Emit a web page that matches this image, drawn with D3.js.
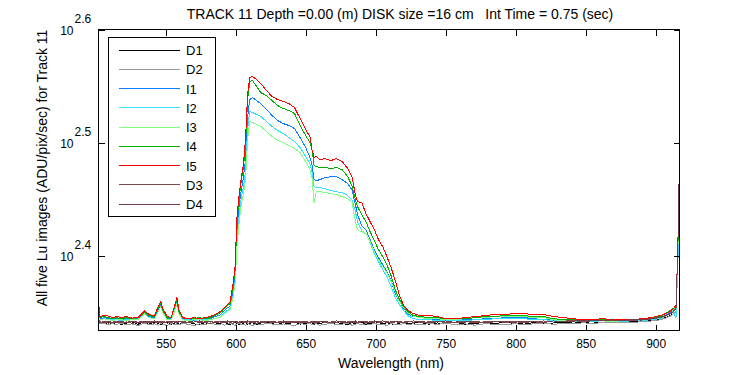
<!DOCTYPE html>
<html><head><meta charset="utf-8">
<script src="https://cdn.jsdelivr.net/npm/d3@7/dist/d3.min.js"></script>
<style>
body{margin:0;background:#fff}
svg{display:block}
text{font-family:"Liberation Sans",Arial,Helvetica,sans-serif;fill:#000}
</style>
</head><body>
<svg id="chart" width="750" height="375"></svg>
<script>
// ---------------- data ----------------
const titleText = "TRACK 11 Depth =0.00 (m) DISK size =16 cm   Int Time = 0.75 (sec)";
const xLabel = "Wavelength (nm)";
const yLabel = "All five Lu images (ADU/pix/sec) for Track 11";
const xTicks = [550, 600, 650, 700, 750, 800, 850, 900];
const yTickExps = [2.4, 2.5, 2.6];
const seriesNames = ["D1", "D2", "I1", "I2", "I3", "I4", "I5", "D3", "D4"];

const wavelengths = [502.0, 503, 506, 509, 512, 515, 518, 522, 526, 530,
 533, 535, 538, 542, 545, 546.5, 548, 551, 554, 556.5,
 558, 559.5, 562, 566, 570, 574, 578, 582, 585, 588,
 590, 592, 594, 596, 598, 599.5, 601, 602.5, 604, 605.5,
 607, 608.5, 610, 612, 615, 618, 622, 626, 630, 634,
 638, 642, 646, 650, 653, 654.5, 656, 657.5, 660, 664,
 668, 672, 676, 680, 683, 685.5, 687, 690, 693, 696,
 699, 702, 705, 708, 711, 714, 717, 720, 723, 727,
 732, 738, 744, 750, 757, 764, 771, 778, 785, 792,
 799, 806, 813, 820, 827, 834, 841, 848, 855, 862,
 869, 876, 883, 890, 897, 903, 907, 910, 912.5, 914.5,
 915.8, 916.8];

const D1 = [220.2, 219.4, 218.9, 219.6, 219.0, 219.8, 218.7, 219.3, 219.9, 218.8,
 219.5, 219.2, 218.9, 219.7, 219.1, 218.6, 219.4, 219.9, 218.9, 219.3,
 219.6, 218.8, 219.2, 219.8, 219.0, 218.7, 219.5, 219.1, 219.7, 218.9,
 219.3, 219.8, 219.0, 218.6, 219.4, 219.7, 219.0, 218.8, 219.5, 219.2,
 219.8, 218.9, 219.3, 219.6, 218.7, 219.4, 219.9, 219.0, 218.8, 219.5,
 219.2, 219.7, 218.9, 219.3, 219.0, 219.6, 218.7, 219.4, 219.1, 219.8,
 218.9, 219.5, 219.2, 218.7, 219.6, 219.0, 219.3, 219.8, 218.8, 219.4,
 219.1, 219.7, 218.9, 219.5, 219.0, 218.6, 219.4, 219.8, 219.1, 219.3,
 219.6, 218.9, 219.4, 219.0, 219.7, 218.8, 219.3, 219.5, 219.0, 219.8,
 219.2, 218.9, 219.6, 219.1, 219.4, 219.8, 219.3, 219.7, 219.9, 219.5,
 220.0, 219.7, 220.2, 220.0, 220.5, 221.0, 221.8, 222.6, 223.5, 224.8,
 250.0, 290.0];

const D2 = [219.8, 218.9, 219.3, 218.5, 219.1, 218.7, 219.4, 218.6, 219.0, 218.2,
 218.9, 219.3, 218.6, 219.0, 218.4, 219.2, 218.8, 218.3, 219.1, 218.7,
 219.0, 218.5, 219.3, 218.8, 218.2, 219.0, 218.6, 219.4, 218.9, 218.5,
 219.1, 218.4, 218.9, 219.3, 218.7, 218.3, 219.0, 219.4, 218.6, 218.9,
 218.4, 219.2, 218.8, 218.3, 219.1, 218.6, 219.3, 218.9, 218.5, 219.0,
 218.7, 218.2, 219.1, 218.8, 219.4, 218.5, 218.9, 219.2, 218.4, 218.8,
 219.3, 218.6, 218.9, 219.2, 218.4, 218.8, 219.1, 218.5, 219.0, 218.7,
 219.3, 218.6, 218.9, 218.3, 219.1, 218.8, 218.5, 219.2, 218.7, 219.0,
 218.5, 219.2, 218.8, 219.3, 218.6, 219.0, 218.4, 219.1, 218.8, 218.5,
 219.1, 218.7, 219.0, 219.4, 218.8, 219.2, 219.0, 219.5, 219.1, 219.6,
 219.4, 219.8, 219.6, 220.0, 220.3, 220.8, 221.6, 222.3, 223.4, 224.5,
 248.0, 280.0];

const I1 = [223.6, 221.3, 221.8, 221.3, 220.9, 221.3, 220.9, 221.3, 220.9, 221.3,
 222.7, 224.1, 222.3, 221.8, 225.9, 227.7, 224.5, 221.3, 221.3, 226.3,
 229.1, 224.1, 221.3, 220.9, 221.3, 220.9, 221.3, 221.3, 222.3, 222.7,
 223.6, 225.0, 226.3, 226.8, 233.8, 241.5, 266.3, 279.0, 287.6, 294.7,
 305.7, 333.0, 345.3, 346.7, 344.6, 342.5, 338.4, 334.3, 330.9, 328.9,
 327.6, 325.6, 319.7, 313.3, 307.0, 302.6, 293.5, 292.9, 293.5, 294.7,
 295.3, 295.3, 293.5, 291.1, 287.6, 279.0, 273.4, 267.4, 265.2, 259.8,
 254.6, 250.5, 247.0, 243.5, 239.1, 232.8, 229.1, 225.9, 223.6, 222.3,
 221.8, 221.3, 220.9, 220.9, 220.4, 220.9, 220.9, 221.3, 221.3, 221.8,
 221.8, 221.8, 221.3, 220.9, 220.9, 220.4, 220.4, 220.4, 220.0, 220.4,
 220.4, 220.0, 220.4, 220.9, 220.9, 221.8, 222.7, 224.1, 225.0, 225.9,
 249.5, 276.2];

const I2 = [223.2, 220.9, 221.3, 220.9, 220.9, 220.9, 220.4, 220.9, 220.9, 220.9,
 222.3, 223.6, 221.8, 221.3, 225.0, 226.8, 224.1, 220.9, 220.9, 225.4,
 228.2, 223.6, 220.9, 220.9, 220.4, 220.9, 220.9, 220.9, 221.3, 221.8,
 222.7, 224.1, 225.0, 225.9, 231.4, 238.6, 259.8, 273.4, 283.0, 288.8,
 298.3, 324.9, 337.0, 336.3, 335.0, 333.6, 330.3, 326.9, 324.3, 322.3,
 319.7, 317.1, 313.3, 307.6, 303.2, 298.3, 289.4, 288.8, 288.8, 288.2,
 287.0, 286.4, 285.9, 284.2, 281.8, 275.1, 269.5, 264.6, 263.0, 258.3,
 252.6, 248.5, 244.5, 241.0, 236.2, 231.0, 227.7, 225.0, 222.7, 221.3,
 220.9, 220.9, 220.4, 220.4, 220.4, 220.4, 220.9, 220.9, 221.3, 221.3,
 221.3, 221.3, 220.9, 220.9, 220.4, 220.4, 220.0, 220.0, 220.0, 220.4,
 220.0, 220.0, 220.4, 220.4, 220.9, 221.3, 222.3, 223.6, 224.5, 221.8,
 247.0, 273.4];

const I3 = [223.2, 220.9, 221.3, 220.9, 220.4, 220.9, 220.9, 220.4, 220.9, 220.9,
 222.3, 223.6, 221.8, 221.3, 225.0, 226.8, 224.1, 220.9, 220.9, 225.0,
 227.7, 223.6, 220.9, 220.4, 220.9, 220.9, 220.4, 220.9, 221.3, 221.8,
 222.3, 223.6, 224.5, 225.4, 230.5, 237.1, 257.2, 269.5, 279.0, 284.7,
 293.5, 318.4, 330.3, 329.6, 328.3, 326.9, 323.6, 320.4, 317.7, 316.5,
 314.6, 312.6, 310.1, 304.5, 299.5, 294.7, 280.2, 286.4, 286.4, 285.9,
 285.3, 284.7, 283.6, 282.4, 280.7, 269.5, 265.2, 264.1, 263.0, 258.8,
 253.6, 249.5, 246.0, 243.0, 238.6, 233.8, 229.1, 226.3, 224.1, 222.3,
 221.8, 221.3, 221.3, 220.9, 220.9, 221.3, 221.8, 221.8, 222.3, 222.3,
 222.3, 222.3, 221.8, 221.8, 220.9, 220.4, 220.4, 220.4, 220.4, 220.4,
 220.0, 220.4, 220.4, 220.9, 221.3, 222.3, 223.2, 224.5, 225.4, 226.3,
 254.6, 279.0];

const I4 = [224.5, 221.8, 222.3, 221.8, 221.3, 221.8, 221.3, 221.8, 221.3, 221.8,
 223.2, 224.5, 222.7, 222.3, 226.3, 228.2, 225.0, 221.8, 221.8, 226.8,
 229.5, 224.5, 221.8, 221.3, 221.3, 221.8, 221.3, 221.8, 222.7, 223.6,
 224.5, 225.9, 227.3, 228.2, 235.7, 243.5, 270.6, 283.0, 292.9, 300.8,
 315.2, 345.3, 358.1, 358.9, 354.5, 350.2, 348.1, 344.6, 341.1, 339.1,
 337.7, 335.7, 327.6, 321.0, 316.5, 312.0, 302.0, 301.4, 300.8, 300.8,
 300.2, 300.8, 299.5, 295.3, 290.0, 281.8, 277.9, 273.4, 269.5, 264.1,
 259.3, 254.6, 251.0, 247.0, 241.5, 234.7, 230.0, 226.8, 224.5, 222.7,
 222.3, 221.8, 221.8, 221.3, 221.3, 221.3, 221.8, 222.3, 222.3, 222.7,
 222.7, 222.7, 222.3, 222.3, 221.3, 220.9, 220.9, 220.4, 220.9, 220.9,
 220.4, 220.9, 220.4, 220.9, 221.8, 222.3, 223.6, 225.0, 225.9, 226.8,
 255.6, 281.8];

const I5 = [229.1, 222.3, 222.7, 222.5, 221.8, 222.3, 221.8, 222.3, 221.6, 221.8,
 223.6, 225.0, 223.2, 222.7, 227.3, 229.1, 225.9, 222.3, 221.8, 227.7,
 231.0, 225.4, 221.8, 221.3, 221.8, 221.3, 221.8, 222.3, 223.2, 224.1,
 225.0, 226.3, 227.7, 229.1, 237.1, 245.5, 273.4, 284.7, 294.7, 302.6,
 318.4, 348.8, 361.1, 361.8, 359.6, 356.7, 351.7, 347.4, 345.3, 344.0,
 342.5, 339.8, 332.3, 324.9, 320.4, 312.0, 307.0, 307.6, 305.7, 306.3,
 305.1, 306.3, 304.5, 300.2, 295.3, 284.7, 280.7, 280.2, 274.0, 269.5,
 265.2, 259.8, 256.2, 251.0, 245.5, 239.1, 231.9, 227.3, 225.0, 223.6,
 222.7, 222.7, 222.3, 221.3, 221.3, 221.8, 222.3, 222.7, 223.2, 223.2,
 223.6, 223.6, 223.2, 223.2, 222.3, 221.8, 221.3, 220.9, 220.9, 221.3,
 220.9, 220.9, 220.9, 221.3, 221.8, 222.7, 223.6, 224.5, 225.9, 227.3,
 255.6, 297.1];

const D3 = [220.5, 219.6, 220.1, 219.3, 219.8, 220.2, 219.4, 219.9, 219.2, 219.7,
 220.1, 219.5, 219.9, 220.3, 219.4, 219.8, 220.2, 219.3, 219.7, 220.0,
 219.4, 219.9, 220.2, 219.5, 219.8, 220.3, 219.6, 219.2, 219.9, 220.1,
 219.5, 219.9, 220.3, 219.6, 219.2, 219.8, 220.1, 219.5, 219.9, 220.2,
 219.4, 219.7, 220.2, 219.6, 219.3, 219.9, 220.1, 219.5, 219.8, 220.3,
 219.4, 219.9, 220.2, 219.5, 219.8, 220.0, 219.3, 219.9, 220.2, 219.6,
 219.8, 220.3, 219.5, 219.9, 220.1, 219.4, 219.8, 220.2, 219.6, 219.9,
 220.3, 219.5, 219.8, 220.1, 219.4, 219.9, 220.2, 219.6, 219.8, 220.3,
 219.6, 219.9, 220.2, 219.5, 219.8, 220.1, 219.4, 219.9, 220.2, 219.7,
 220.0, 219.6, 220.1, 220.3, 219.8, 220.2, 220.5, 220.0, 220.4, 220.6,
 220.3, 220.7, 220.5, 220.9, 221.2, 221.9, 222.6, 223.5, 224.3, 225.8,
 255.6, 297.1];

const D4 = [220.8, 220.0, 219.5, 220.2, 219.7, 219.4, 220.1, 219.6, 220.3, 219.8,
 219.5, 220.1, 219.7, 219.3, 220.2, 219.9, 219.4, 220.0, 220.3, 219.6,
 219.9, 220.2, 219.5, 219.8, 220.3, 219.6, 219.9, 220.2, 219.4, 219.8,
 220.2, 219.6, 219.7, 220.1, 219.9, 220.3, 219.5, 219.8, 220.1, 219.6,
 220.0, 220.3, 219.6, 219.9, 220.2, 219.5, 219.8, 220.2, 219.7, 219.6,
 220.1, 219.8, 219.5, 220.2, 219.6, 219.9, 220.3, 219.5, 219.8, 220.1,
 219.5, 219.7, 220.2, 219.6, 219.8, 220.3, 219.5, 219.9, 220.1, 219.4,
 219.8, 220.1, 220.3, 219.6, 219.9, 220.2, 219.5, 219.8, 220.1, 219.7,
 220.2, 219.5, 219.9, 220.3, 219.6, 219.8, 220.1, 219.5, 219.9, 220.0,
 219.7, 220.2, 219.9, 219.6, 220.3, 220.0, 220.2, 220.6, 220.3, 220.5,
 220.8, 220.4, 220.9, 220.7, 221.4, 221.8, 222.8, 223.3, 224.5, 226.0,
 255.6, 297.1];

const seriesValues = [D1, D2, I1, I2, I3, I4, I5, D3, D4];

// ---------------- styles ----------------
const colors = ["#000000", "#999999", "#0a80ff", "#33e0ff", "#80ff80", "#00b000", "#ff0000", "#804848", "#70404a"];
const L = 98.5, R = 679.5, T = 29.5, B = 330.5;

const svg = d3.select("#chart");

const x = d3.scaleLinear().domain([502, 917]).range([L, R]);
const y = d3.scaleLog().domain([Math.pow(10, 2.3346), Math.pow(10, 2.6)]).range([B, T]);

svg.append("defs").append("clipPath").attr("id", "plotclip")
  .append("rect").attr("x", L).attr("y", T).attr("width", R - L).attr("height", B - T);

// series
const line = d3.line().x(d => x(d[0])).y(d => y(d[1]));
const gLines = svg.append("g").attr("clip-path", "url(#plotclip)");
seriesNames.forEach((name, i) => {
  const pts = wavelengths.map((w, j) => [w, seriesValues[i][j]]);
  gLines.append("path").datum(pts)
    .attr("fill", "none").attr("stroke", colors[i]).attr("stroke-width", 1)
    .attr("shape-rendering", "crispEdges")
    .attr("d", line);
});

// axes (ticks inward)
const axFont = 12;
const gx = svg.append("g").attr("transform", `translate(0,${B})`)
  .call(d3.axisBottom(x).tickValues(xTicks).tickSizeInner(-6).tickSizeOuter(0).tickPadding(9).tickFormat(d3.format("d")));
gx.select(".domain").remove();
gx.selectAll("text").attr("font-size", axFont).attr("font-family", '"Liberation Sans",Arial,sans-serif');

const gxt = svg.append("g").attr("transform", `translate(0,${T})`)
  .call(d3.axisTop(x).tickValues(xTicks).tickSizeInner(-6).tickSizeOuter(0).tickFormat(""));
gxt.select(".domain").remove();

const yTickVals = yTickExps.map(e => Math.pow(10, e));
const gy = svg.append("g").attr("transform", `translate(${L},0)`)
  .call(d3.axisLeft(y).tickValues(yTickVals).tickSizeInner(-6).tickSizeOuter(0).tickFormat(""));
gy.select(".domain").remove();
gy.selectAll(".tick").each(function (d, i) {
  const g = d3.select(this);
  g.select("text").remove();
  g.append("text").attr("x", -25).attr("y", 4.5).attr("text-anchor", "end")
    .attr("font-size", axFont).text("10");
  g.append("text").attr("x", -24).attr("y", -7.5).attr("text-anchor", "start")
    .attr("font-size", axFont).text(yTickExps[i].toFixed(1));
});

const gyr = svg.append("g").attr("transform", `translate(${R},0)`)
  .call(d3.axisRight(y).tickValues(yTickVals).tickSizeInner(-6).tickSizeOuter(0).tickFormat(""));
gyr.select(".domain").remove();

svg.selectAll(".tick line").attr("stroke", "#000").attr("shape-rendering", "crispEdges");

// frame
svg.append("rect").attr("x", L).attr("y", T).attr("width", R - L).attr("height", B - T)
  .attr("fill", "none").attr("stroke", "#000").attr("stroke-width", 1).attr("shape-rendering", "crispEdges");

// title and labels
svg.append("text").attr("x", 400).attr("y", 19).attr("text-anchor", "middle")
  .attr("font-size", 14).style("white-space", "pre").attr("xml:space", "preserve").text(titleText);
svg.append("text").attr("x", (L + R) / 2 + 2).attr("y", 368).attr("text-anchor", "middle")
  .attr("font-size", 14).text(xLabel);
svg.append("text").attr("transform", "translate(47,168) rotate(-90)").attr("text-anchor", "middle")
  .attr("font-size", 14).text(yLabel);

// legend
const lg = svg.append("g");
lg.append("rect").attr("x", 108.5).attr("y", 37.5).attr("width", 106.5).attr("height", 178.5)
  .attr("fill", "#fff").attr("stroke", "#000").attr("stroke-width", 1).attr("shape-rendering", "crispEdges");
seriesNames.forEach((name, i) => {
  const cy = 49.5 + i * 19.25;
  lg.append("line").attr("x1", 119).attr("x2", 180).attr("y1", Math.round(cy) + 0.5).attr("y2", Math.round(cy) + 0.5)
    .attr("stroke", colors[i]).attr("stroke-width", 1).attr("shape-rendering", "crispEdges");
  lg.append("text").attr("x", 186).attr("y", cy + 5.5).attr("font-size", 13).text(name);
});
</script>
</body></html>
